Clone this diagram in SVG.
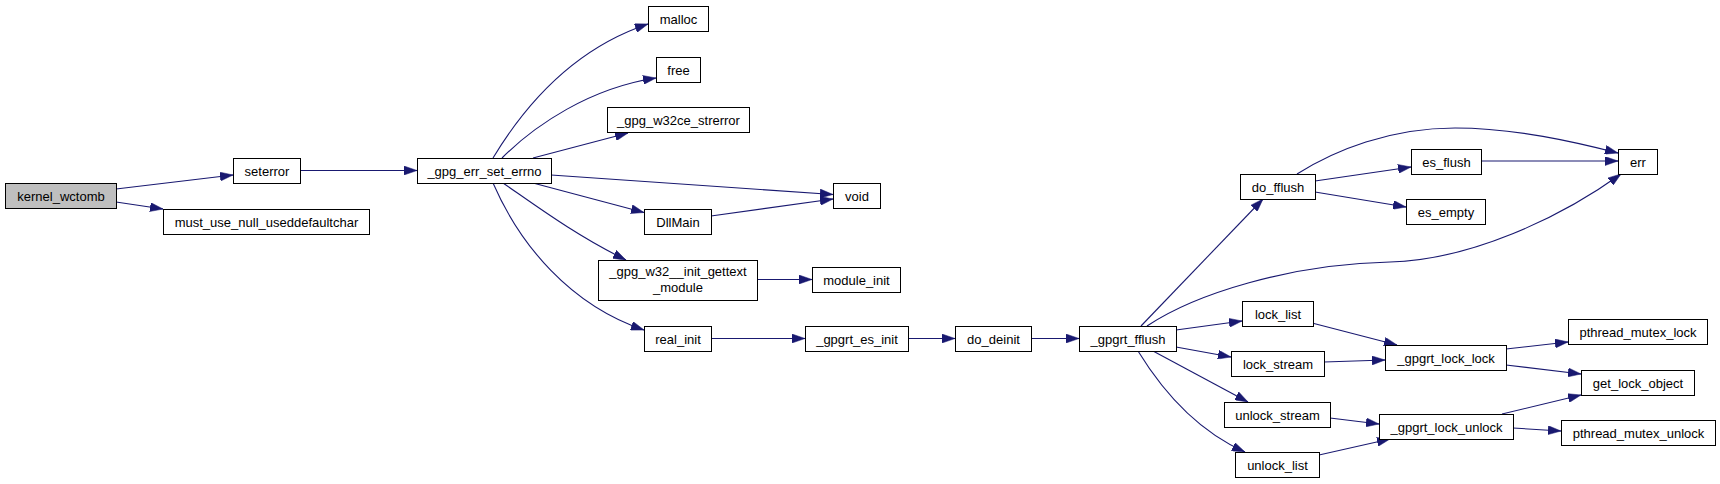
<svg xmlns="http://www.w3.org/2000/svg" width="1720" height="484" viewBox="0 0 1720 484">
<style>
.n rect{fill:#ffffff;stroke:#000000;stroke-width:1}
.n.root rect{fill:#bfbfbf}
.n text{font-family:"Liberation Sans",Arial,sans-serif;font-size:13px;fill:#000000;text-anchor:middle}
.e path{fill:none;stroke:#191970;stroke-width:1.1;marker-end:url(#ah)}
</style>
<defs>
<marker id="ah" markerUnits="userSpaceOnUse" markerWidth="13" markerHeight="9" viewBox="0 0 13 9" refX="13" refY="4.5" orient="auto">
<path d="M0,0 L13,4.5 L0,9 z" fill="#191970" stroke="#191970" stroke-width="0.5"/>
</marker>
</defs>
<rect x="0" y="0" width="1720" height="484" fill="#ffffff"/>
<g id="connectors" class="e">
<path d="M116,189 L233,175"/>
<path d="M116,202 L163,209"/>
<path d="M300,170.5 L417,170.5"/>
<path d="M493,158 C522,110 570,50 648,24"/>
<path d="M502,158 C535,125 590,88 656,78"/>
<path d="M533,158 L628,133"/>
<path d="M551,175 L833,194.5"/>
<path d="M533,183 L644,212.5"/>
<path d="M503,183 C535,205 575,235 626,260"/>
<path d="M493,183 C520,245 570,305 644,330"/>
<path d="M711,216 L833,199"/>
<path d="M757,279.5 L812,279.5"/>
<path d="M711,338.5 L805,338.5"/>
<path d="M908,338.5 L955,338.5"/>
<path d="M1031,338.5 L1079,338.5"/>
<path d="M1141,326 L1263,199"/>
<path d="M1147,326 C1195,294 1290,264 1390,262 C1470,260 1560,218 1621,174"/>
<path d="M1297,174 C1335,150 1390,128 1455,128 C1515,128 1575,142 1618,153"/>
<path d="M1315,181 L1411,167"/>
<path d="M1315,192 L1406,207"/>
<path d="M1481,161 L1618,161"/>
<path d="M1176,330 L1242,321"/>
<path d="M1176,347 L1231,357"/>
<path d="M1153,351 L1248,402"/>
<path d="M1138,351 C1165,395 1200,432 1245,452"/>
<path d="M1312,323 L1397,345"/>
<path d="M1324,362 L1385,360"/>
<path d="M1506,349 L1568,342"/>
<path d="M1506,365 L1581,374"/>
<path d="M1330,418 L1379,424"/>
<path d="M1319,455 L1390,439"/>
<path d="M1502,414 L1581,395"/>
<path d="M1513,428 L1561,431"/>
</g>
<g id="kernel_wctomb" class="n root"><rect x="5.5" y="183.5" width="111" height="25"/><text x="61" y="200.5">kernel_wctomb</text></g>
<g id="seterror" class="n"><rect x="233.5" y="158.5" width="67" height="25"/><text x="267" y="175.5">seterror</text></g>
<g id="must_use_null_useddefaultchar" class="n"><rect x="163.5" y="209.5" width="206" height="25"/><text x="266.5" y="226.5">must_use_null_useddefaultchar</text></g>
<g id="gpg_err_set_errno" class="n"><rect x="417.5" y="158.5" width="134" height="25"/><text x="484.5" y="175.5">_gpg_err_set_errno</text></g>
<g id="malloc" class="n"><rect x="648.5" y="6.5" width="60" height="25"/><text x="678.5" y="23.5">malloc</text></g>
<g id="free" class="n"><rect x="656.5" y="57.5" width="44" height="25"/><text x="678.5" y="74.5">free</text></g>
<g id="gpg_w32ce_strerror" class="n"><rect x="607.5" y="107.5" width="142" height="25"/><text x="678.5" y="124.5">_gpg_w32ce_strerror</text></g>
<g id="void" class="n"><rect x="833.5" y="183.5" width="47" height="25"/><text x="857" y="200.5">void</text></g>
<g id="DllMain" class="n"><rect x="644.5" y="209.5" width="67" height="25"/><text x="678" y="226.5">DllMain</text></g>
<g id="gpg_w32_init_gettext_module" class="n"><rect x="598.5" y="260.5" width="159" height="40"/><text x="678" y="276">_gpg_w32__init_gettext</text><text x="678" y="291.5">_module</text></g>
<g id="module_init" class="n"><rect x="812.5" y="267.5" width="88" height="25"/><text x="856.5" y="284.5">module_init</text></g>
<g id="real_init" class="n"><rect x="644.5" y="326.5" width="67" height="25"/><text x="678" y="343.5">real_init</text></g>
<g id="gpgrt_es_init" class="n"><rect x="805.5" y="326.5" width="103" height="25"/><text x="857" y="343.5">_gpgrt_es_init</text></g>
<g id="do_deinit" class="n"><rect x="955.5" y="326.5" width="76" height="25"/><text x="993.5" y="343.5">do_deinit</text></g>
<g id="gpgrt_fflush" class="n"><rect x="1079.5" y="326.5" width="97" height="25"/><text x="1128" y="343.5">_gpgrt_fflush</text></g>
<g id="do_fflush" class="n"><rect x="1240.5" y="174.5" width="75" height="25"/><text x="1278" y="191.5">do_fflush</text></g>
<g id="es_flush" class="n"><rect x="1411.5" y="149.5" width="70" height="25"/><text x="1446.5" y="166.5">es_flush</text></g>
<g id="es_empty" class="n"><rect x="1406.5" y="199.5" width="79" height="25"/><text x="1446" y="216.5">es_empty</text></g>
<g id="err" class="n"><rect x="1618.5" y="149.5" width="39" height="25"/><text x="1638" y="166.5">err</text></g>
<g id="lock_list" class="n"><rect x="1242.5" y="301.5" width="71" height="25"/><text x="1278" y="318.5">lock_list</text></g>
<g id="lock_stream" class="n"><rect x="1231.5" y="351.5" width="93" height="25"/><text x="1278" y="368.5">lock_stream</text></g>
<g id="unlock_stream" class="n"><rect x="1224.5" y="402.5" width="106" height="25"/><text x="1277.5" y="419.5">unlock_stream</text></g>
<g id="unlock_list" class="n"><rect x="1235.5" y="452.5" width="84" height="25"/><text x="1277.5" y="469.5">unlock_list</text></g>
<g id="gpgrt_lock_lock" class="n"><rect x="1385.5" y="345.5" width="121" height="25"/><text x="1446" y="362.5">_gpgrt_lock_lock</text></g>
<g id="gpgrt_lock_unlock" class="n"><rect x="1379.5" y="414.5" width="134" height="25"/><text x="1446.5" y="431.5">_gpgrt_lock_unlock</text></g>
<g id="pthread_mutex_lock" class="n"><rect x="1568.5" y="319.5" width="139" height="25"/><text x="1638" y="336.5">pthread_mutex_lock</text></g>
<g id="get_lock_object" class="n"><rect x="1581.5" y="370.5" width="113" height="25"/><text x="1638" y="387.5">get_lock_object</text></g>
<g id="pthread_mutex_unlock" class="n"><rect x="1561.5" y="420.5" width="154" height="25"/><text x="1638.5" y="437.5">pthread_mutex_unlock</text></g>
</svg>
